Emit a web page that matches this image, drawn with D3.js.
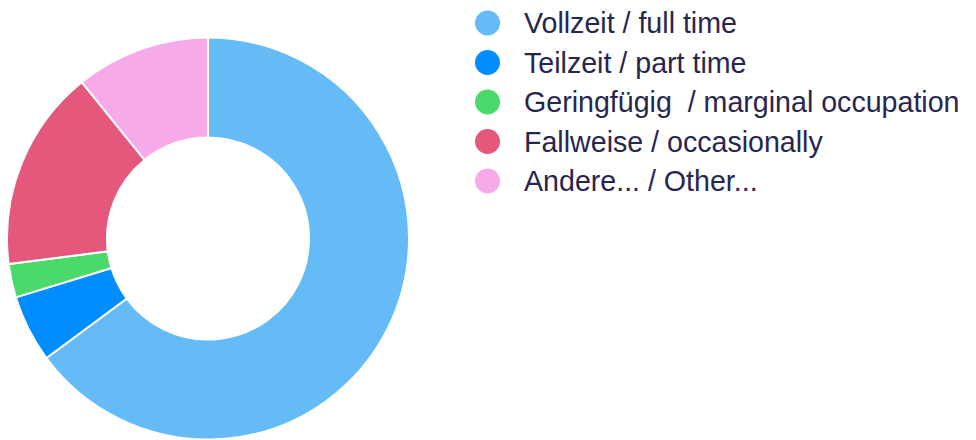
<!DOCTYPE html>
<html>
<head>
<meta charset="utf-8">
<script src="https://cdn.jsdelivr.net/npm/d3@7"></script>
<style>
  html, body { margin: 0; padding: 0; background: #fff; }
  .legend-label { font-family: "Liberation Sans", Arial, sans-serif; font-size: 28.6px; fill: #27264f; white-space: pre; }
</style>
</head>
<body>
<div id="chart"></div>
<script>
const categories = [
  "Vollzeit / full time",
  "Teilzeit / part time",
  "Geringfügig  / marginal occupation",
  "Fallweise / occasionally",
  "Andere... / Other..."
];
const counts = [24, 2, 1, 6, 4];
const colors = ["#64bbf5", "#008dff", "#4bd96b", "#e4587c", "#f7aaea"];

const width = 976;
const height = 440;

const svg = d3.select("#chart").append("svg")
  .attr("width", width)
  .attr("height", height);

const data = categories.map((name, i) => ({ name, value: counts[i], color: colors[i] }));

const pie = d3.pie()
  .value(d => d.value)
  .sort(null);

const arc = d3.arc()
  .innerRadius(101)
  .outerRadius(201);

const donut = svg.append("g")
  .attr("transform", "translate(208,238.5)");

donut.selectAll("path")
  .data(pie(data))
  .enter().append("path")
  .attr("d", arc)
  .attr("fill", d => d.data.color)
  .attr("stroke", "#fff")
  .attr("stroke-width", 2);

// legend
const rowY = d3.scalePoint()
  .domain(categories)
  .range([23, 181]);

const legend = svg.append("g");

const item = legend.selectAll("g")
  .data(data)
  .enter().append("g")
  .attr("transform", d => `translate(0,${rowY(d.name)})`);

item.append("circle")
  .attr("cx", 487.5)
  .attr("cy", 0)
  .attr("r", 12.5)
  .attr("fill", d => d.color);

item.append("text")
  .attr("class", "legend-label")
  .attr("x", 524)
  .attr("y", 10)
  .text(d => d.name);
</script>
</body>
</html>
